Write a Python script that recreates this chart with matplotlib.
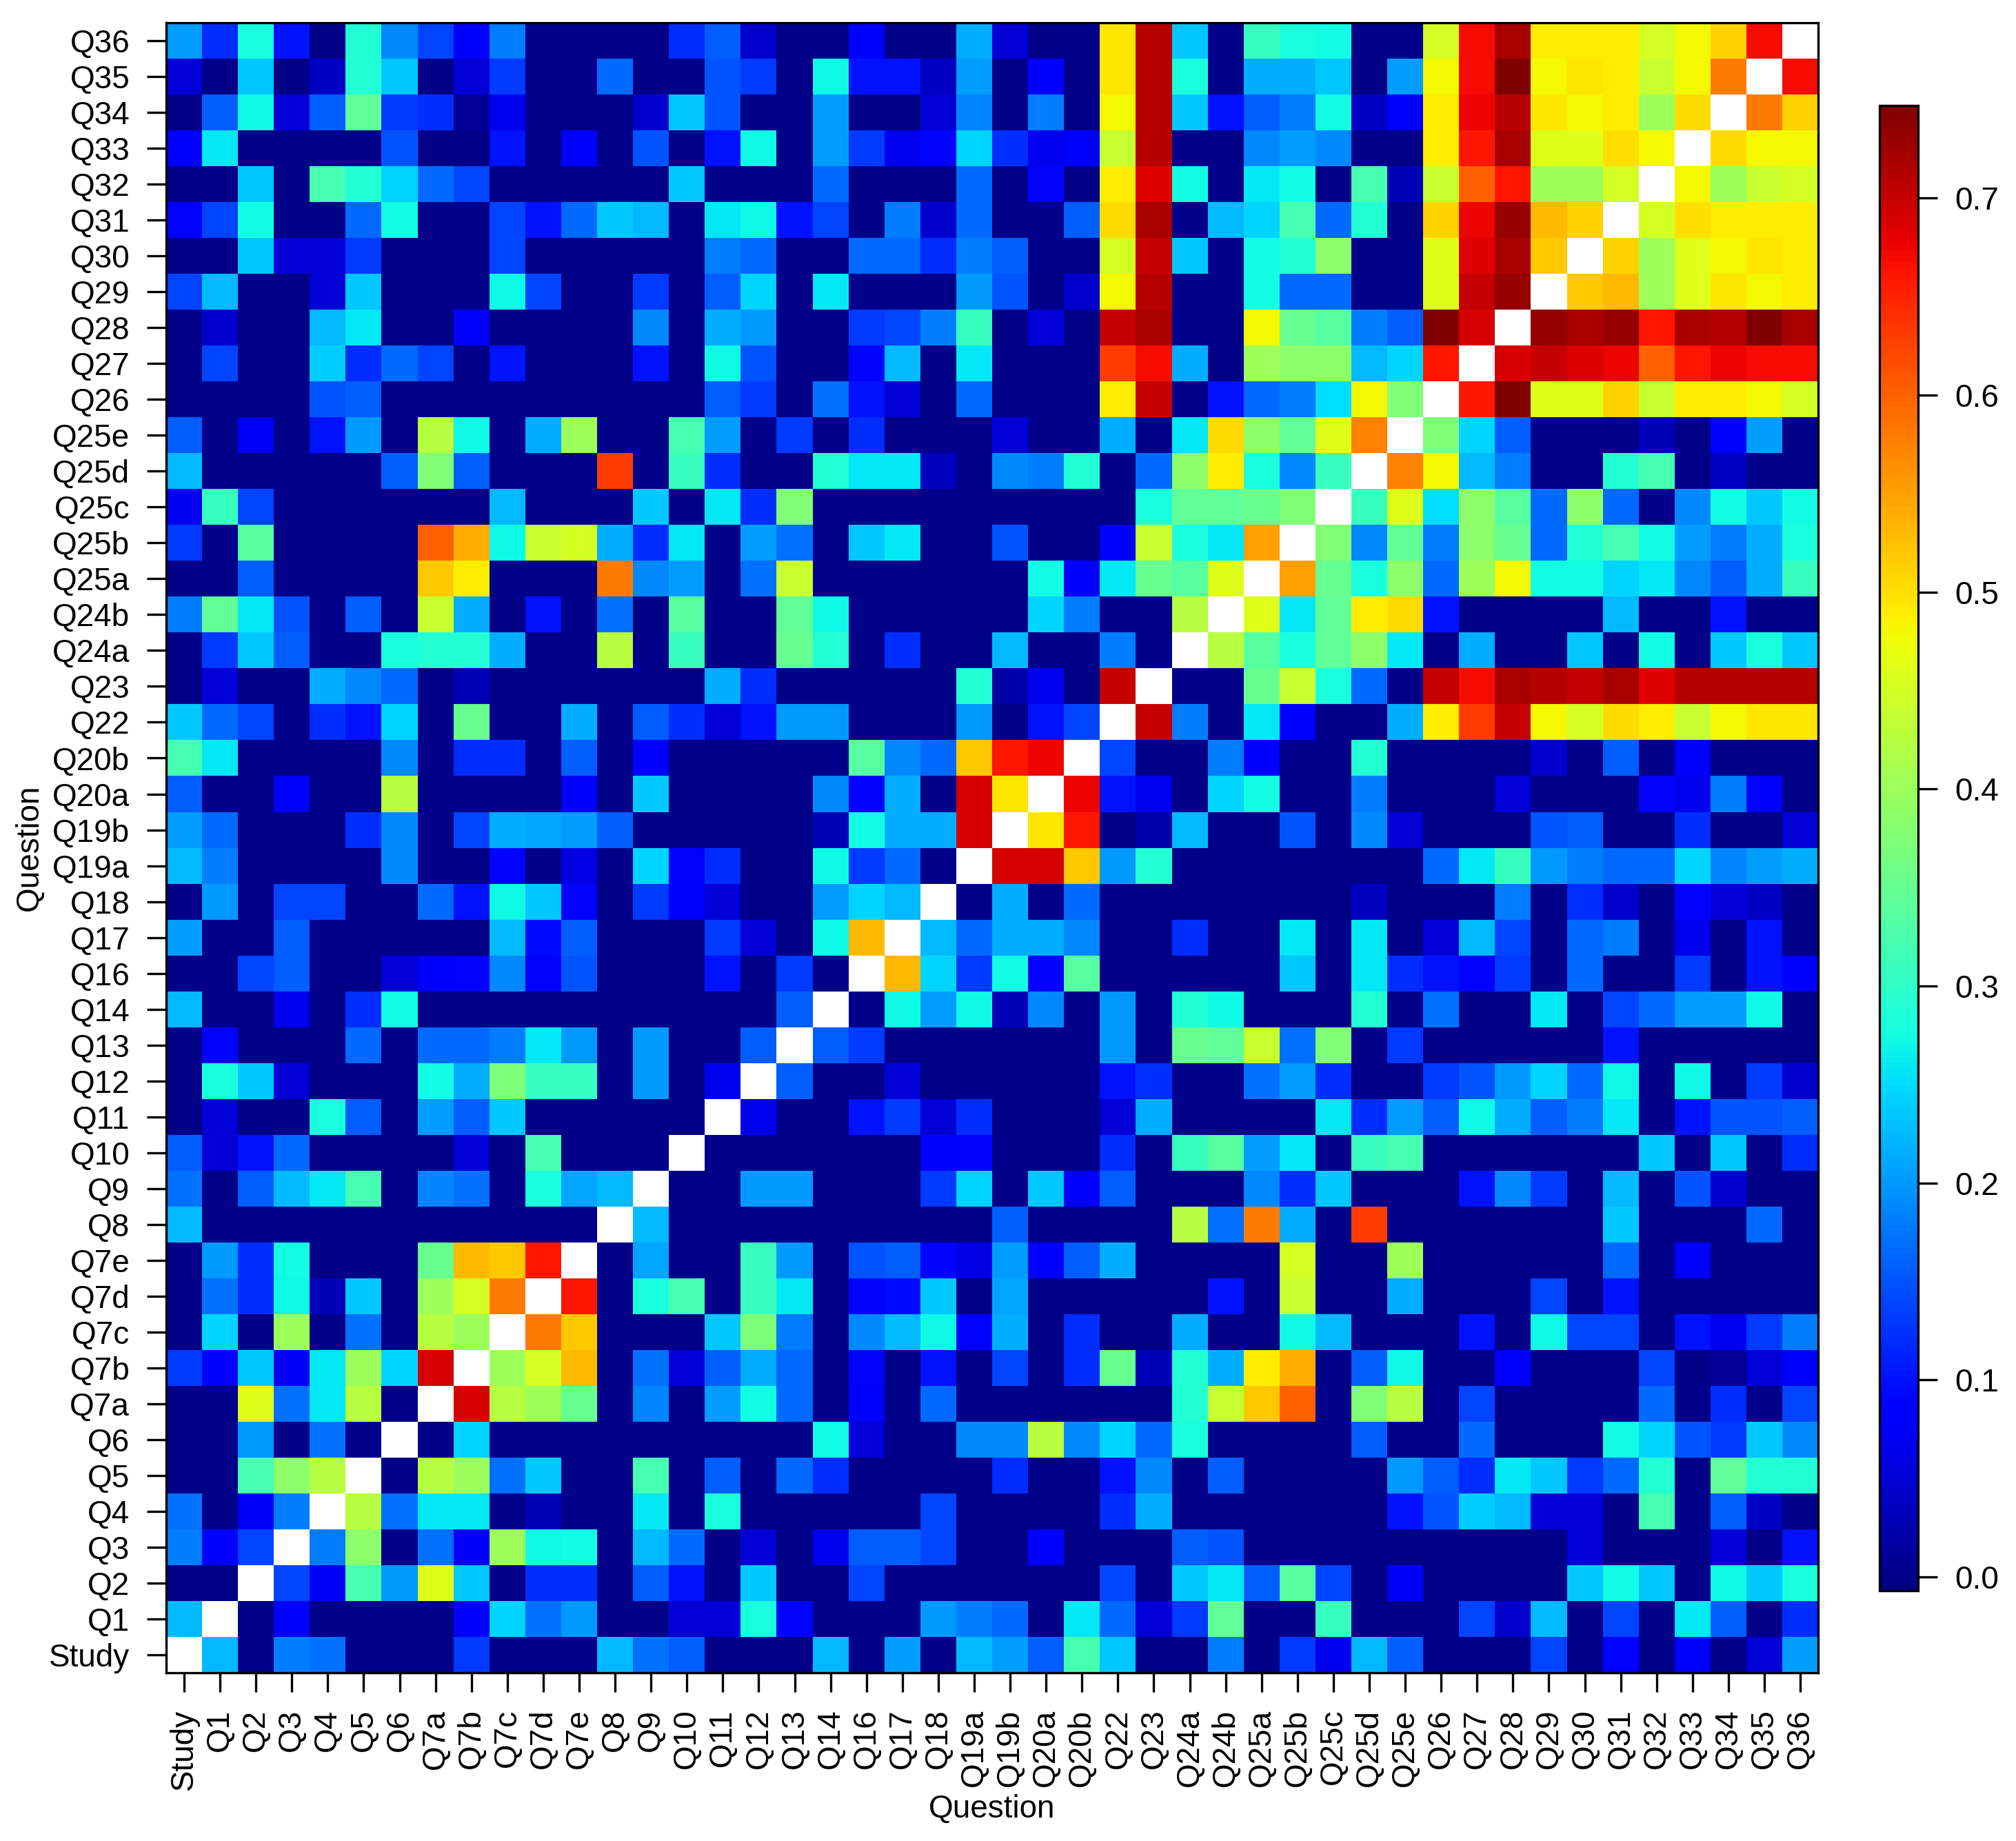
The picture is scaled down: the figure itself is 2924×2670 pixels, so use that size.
#! plot.py
# heat map of question-by-question correlations (diagonal left blank)

import numpy as np
import matplotlib
matplotlib.use('Agg')
from matplotlib import pyplot as plt

labels = ['Study', 'Q1', 'Q2', 'Q3', 'Q4', 'Q5', 'Q6', 'Q7a', 'Q7b', 'Q7c', 'Q7d', 'Q7e',
          'Q8', 'Q9', 'Q10', 'Q11', 'Q12', 'Q13', 'Q14', 'Q16', 'Q17', 'Q18', 'Q19a', 'Q19b',
          'Q20a', 'Q20b', 'Q22', 'Q23', 'Q24a', 'Q24b', 'Q25a', 'Q25b', 'Q25c', 'Q25d', 'Q25e',
          'Q26', 'Q27', 'Q28', 'Q29', 'Q30', 'Q31', 'Q32', 'Q33', 'Q34', 'Q35', 'Q36']

# upper triangle, one list per row: values for the columns right of the diagonal
r_study = [0.225, 0, 0.18, 0.17, 0, 0, 0, 0.13, 0, 0, 0,
           0.225, 0.17, 0.155, 0, 0, 0, 0.225, 0, 0.205, 0, 0.225, 0.205,
           0.155, 0.32, 0.235, 0, 0, 0.18, 0, 0.13, 0.065, 0.225, 0.155,
           0, 0, 0, 0.14, 0, 0.09, 0, 0.08, 0, 0.05, 0.205]
r_q1 = [0, 0.08, 0, 0, 0, 0, 0.08, 0.245, 0.17, 0.20,
        0, 0, 0.05, 0.05, 0.28, 0.09, 0, 0, 0, 0.20, 0.18, 0.165,
        0, 0.26, 0.165, 0.05, 0.13, 0.345, 0, 0, 0.31, 0, 0,
        0, 0.14, 0.045, 0.225, 0, 0.14, 0, 0.26, 0.155, 0, 0.12]
r_q2 = [0.14, 0.07, 0.32, 0.20, 0.46, 0.235, 0, 0.12, 0.12,
        0, 0.155, 0.1, 0, 0.235, 0, 0, 0.14, 0, 0, 0, 0,
        0, 0, 0.14, 0, 0.235, 0.26, 0.155, 0.335, 0.14, 0, 0.07,
        0, 0, 0, 0, 0.235, 0.275, 0.235, 0, 0.27, 0.235, 0.28]
r_q3 = [0.18, 0.385, 0, 0.17, 0.07, 0.40, 0.27, 0.275,
        0, 0.225, 0.165, 0, 0.05, 0, 0.065, 0.155, 0.155, 0.14, 0, 0,
        0.08, 0, 0, 0, 0.155, 0.15, 0, 0, 0, 0, 0,
        0, 0, 0, 0, 0.05, 0, 0, 0, 0.05, 0, 0.1]
r_q4 = [0.425, 0.17, 0.26, 0.26, 0, 0.03, 0,
        0, 0.26, 0, 0.28, 0, 0, 0, 0, 0, 0.14, 0, 0,
        0, 0, 0.12, 0.215, 0, 0, 0, 0, 0, 0, 0.1,
        0.15, 0.24, 0.225, 0.05, 0.05, 0, 0.32, 0, 0.155, 0.04, 0]
r_q5 = [0, 0.425, 0.40, 0.17, 0.235, 0,
        0, 0.32, 0, 0.155, 0, 0.165, 0.12, 0, 0, 0, 0, 0.12,
        0, 0, 0.1, 0.19, 0, 0.155, 0, 0, 0, 0, 0.20,
        0.155, 0.12, 0.26, 0.235, 0.13, 0.165, 0.29, 0, 0.345, 0.29, 0.29]
r_q6 = [0, 0.245, 0, 0, 0,
        0, 0, 0, 0, 0, 0, 0.275, 0.05, 0, 0, 0.19, 0.19,
        0.425, 0.19, 0.245, 0.165, 0.28, 0, 0, 0, 0, 0.155, 0,
        0, 0.165, 0, 0, 0, 0.275, 0.245, 0.15, 0.13, 0.235, 0.19]
r_q7a = [0.69, 0.425, 0.40, 0.35,
         0, 0.185, 0, 0.205, 0.275, 0.165, 0, 0.08, 0, 0.165, 0, 0,
         0, 0, 0, 0, 0.29, 0.44, 0.52, 0.60, 0, 0.375, 0.425,
         0, 0.14, 0, 0, 0, 0, 0.165, 0, 0.12, 0, 0.14]
r_q7b = [0.40, 0.45, 0.53,
         0, 0.17, 0.05, 0.155, 0.215, 0.165, 0, 0.09, 0, 0.1, 0, 0.14,
         0, 0.12, 0.35, 0.03, 0.29, 0.215, 0.49, 0.54, 0, 0.155, 0.27,
         0, 0, 0.08, 0, 0, 0, 0.14, 0, 0.01, 0.05, 0.08]
r_q7c = [0.58, 0.52,
         0, 0, 0, 0.235, 0.37, 0.18, 0, 0.19, 0.225, 0.27, 0.09, 0.215,
         0, 0.12, 0, 0, 0.215, 0, 0, 0.27, 0.225, 0, 0,
         0, 0.1, 0, 0.27, 0.14, 0.14, 0, 0.1, 0.065, 0.13, 0.18]
r_q7d = [0.66,
         0, 0.28, 0.32, 0, 0.31, 0.26, 0, 0.09, 0.095, 0.235, 0, 0.21,
         0, 0, 0, 0, 0, 0.1, 0, 0.44, 0, 0, 0.215,
         0, 0, 0, 0.14, 0, 0.1, 0, 0, 0, 0, 0]
r_q7e = [0, 0.21, 0, 0, 0.31, 0.20, 0, 0.15, 0.155, 0.09, 0.06, 0.205,
         0.08, 0.155, 0.215, 0, 0, 0, 0, 0.45, 0, 0, 0.40,
         0, 0, 0, 0, 0, 0.165, 0, 0.08, 0, 0, 0]
r_q8 = [0.225, 0, 0, 0, 0, 0, 0, 0, 0, 0, 0.155,
        0, 0, 0, 0, 0.425, 0.17, 0.58, 0.215, 0, 0.63, 0,
        0, 0, 0, 0, 0, 0.235, 0, 0, 0, 0.165, 0]
r_q9 = [0, 0, 0.20, 0.20, 0, 0, 0, 0.13, 0.245, 0,
        0.235, 0.08, 0.155, 0, 0, 0, 0.19, 0.12, 0.235, 0, 0,
        0, 0.1, 0.19, 0.13, 0, 0.225, 0, 0.15, 0.045, 0, 0]
r_q10 = [0, 0, 0, 0, 0, 0, 0.08, 0.09, 0,
         0, 0, 0.12, 0, 0.31, 0.335, 0.205, 0.26, 0, 0.31, 0.32,
         0, 0, 0, 0, 0, 0, 0.235, 0, 0.235, 0, 0.12]
r_q11 = [0.065, 0, 0, 0.1, 0.13, 0.05, 0.12, 0,
         0, 0, 0.05, 0.215, 0, 0, 0, 0, 0.26, 0.12, 0.205,
         0.155, 0.27, 0.215, 0.155, 0.18, 0.26, 0, 0.1, 0.15, 0.15, 0.155]
r_q12 = [0.155, 0, 0, 0.05, 0, 0, 0,
         0, 0, 0.1, 0.12, 0, 0, 0.17, 0.205, 0.12, 0, 0,
         0.13, 0.15, 0.20, 0.245, 0.165, 0.27, 0, 0.27, 0, 0.13, 0.045]
r_q13 = [0.155, 0.13, 0, 0, 0, 0,
         0, 0, 0.20, 0, 0.35, 0.345, 0.44, 0.17, 0.375, 0, 0.13,
         0, 0, 0, 0, 0, 0.1, 0, 0, 0, 0, 0]
r_q14 = [0, 0.27, 0.205, 0.27, 0.03,
         0.19, 0, 0.20, 0, 0.29, 0.27, 0, 0, 0, 0.29, 0,
         0.17, 0, 0, 0.26, 0, 0.14, 0.165, 0.205, 0.205, 0.27, 0]
r_q16 = [0.53, 0.245, 0.13, 0.275,
         0.09, 0.335, 0, 0, 0, 0, 0, 0.235, 0, 0.26, 0.12,
         0.1, 0.09, 0.13, 0, 0.165, 0, 0, 0.13, 0, 0.1, 0.08]
r_q17 = [0.225, 0.165, 0.215,
         0.215, 0.19, 0, 0, 0.12, 0, 0, 0.26, 0, 0.26, 0,
         0.05, 0.225, 0.14, 0, 0.165, 0.18, 0, 0.065, 0, 0.1, 0]
r_q18 = [0, 0.215,
         0, 0.165, 0, 0, 0, 0, 0, 0, 0, 0.035, 0,
         0, 0, 0.18, 0, 0.12, 0.045, 0, 0.09, 0.05, 0.04, 0]
r_q19a = [0.69,
          0.69, 0.52, 0.20, 0.29, 0, 0, 0, 0, 0, 0, 0,
          0.165, 0.26, 0.31, 0.20, 0.18, 0.165, 0.165, 0.245, 0.185, 0.205, 0.215]
r_q19b = [0.495, 0.66, 0, 0.02, 0.225, 0, 0, 0.15, 0, 0.19, 0.05,
          0, 0, 0, 0.15, 0.155, 0, 0, 0.12, 0, 0, 0.05]
r_q20a = [0.675, 0.1, 0.065, 0, 0.245, 0.275, 0, 0, 0.18, 0,
          0, 0, 0.05, 0, 0, 0, 0.09, 0.065, 0.18, 0.08, 0]
r_q20b = [0.14, 0, 0, 0.18, 0.08, 0, 0, 0.29, 0,
          0, 0, 0, 0.045, 0, 0.155, 0, 0.08, 0, 0, 0]
r_q22 = [0.70, 0.18, 0, 0.26, 0.08, 0, 0, 0.215,
         0.49, 0.63, 0.70, 0.48, 0.45, 0.505, 0.49, 0.44, 0.48, 0.495, 0.495]
r_q23 = [0, 0, 0.35, 0.44, 0.28, 0.165, 0,
         0.70, 0.67, 0.72, 0.71, 0.70, 0.72, 0.685, 0.71, 0.71, 0.71, 0.71]
r_q24a = [0.425, 0.335, 0.28, 0.345, 0.385, 0.26,
          0, 0.215, 0, 0, 0.235, 0, 0.275, 0, 0.235, 0.28, 0.235]
r_q24b = [0.46, 0.26, 0.345, 0.49, 0.505,
          0.1, 0, 0, 0, 0, 0.225, 0, 0, 0.1, 0, 0]
r_q25a = [0.55, 0.35, 0.28, 0.385,
          0.165, 0.40, 0.48, 0.275, 0.275, 0.245, 0.26, 0.19, 0.155, 0.215, 0.31]
r_q25b = [0.375, 0.19, 0.345,
          0.18, 0.385, 0.35, 0.165, 0.29, 0.32, 0.275, 0.205, 0.18, 0.215, 0.28]
r_q25c = [0.31, 0.46,
          0.25, 0.385, 0.335, 0.165, 0.385, 0.165, 0, 0.19, 0.275, 0.235, 0.275]
r_q25d = [0.575,
          0.48, 0.225, 0.18, 0, 0, 0.29, 0.32, 0, 0.04, 0, 0]
r_q25e = [0.375, 0.245, 0.155, 0, 0, 0, 0.03, 0, 0.08, 0.205, 0]
r_q26 = [0.66, 0.75, 0.46, 0.46, 0.51, 0.44, 0.49, 0.49, 0.48, 0.45]
r_q27 = [0.69, 0.70, 0.685, 0.675, 0.60, 0.66, 0.675, 0.67, 0.67]
r_q28 = [0.73, 0.72, 0.73, 0.66, 0.72, 0.71, 0.75, 0.72]
r_q29 = [0.52, 0.53, 0.40, 0.46, 0.495, 0.48, 0.49]
r_q30 = [0.51, 0.40, 0.46, 0.48, 0.495, 0.49]
r_q31 = [0.45, 0.50, 0.49, 0.49, 0.49]
r_q32 = [0.48, 0.40, 0.44, 0.45]
r_q33 = [0.505, 0.48, 0.48]
r_q34 = [0.58, 0.51]
r_q35 = [0.67]

upper_rows = [r_study, r_q1, r_q2, r_q3, r_q4, r_q5, r_q6, r_q7a, r_q7b, r_q7c, r_q7d, r_q7e,
              r_q8, r_q9, r_q10, r_q11, r_q12, r_q13, r_q14, r_q16, r_q17, r_q18, r_q19a, r_q19b,
              r_q20a, r_q20b, r_q22, r_q23, r_q24a, r_q24b, r_q25a, r_q25b, r_q25c, r_q25d, r_q25e,
              r_q26, r_q27, r_q28, r_q29, r_q30, r_q31, r_q32, r_q33, r_q34, r_q35]

# fill a symmetric matrix, diagonal stays NaN (drawn white)
n = len(labels)
corr = np.full((n, n), np.nan)
for i, row in enumerate(upper_rows):
    if len(row) != n - i - 1:
        raise ValueError('row %s has %d values' % (labels[i], len(row)))
    corr[i, i + 1:] = row
    corr[i + 1:, i] = row

plt.rcParams['font.family'] = ['Liberation Sans', 'DejaVu Sans']
fs = 16.5

fig = plt.figure(figsize=(14.62, 13.35), dpi=200)
ax = fig.add_axes([0.0824, 0.0914, 0.8195, 0.8962])

cmap = plt.get_cmap('jet').copy()
cmap.set_bad('white')
mesh = ax.pcolormesh(np.ma.masked_invalid(corr), cmap=cmap, vmin=-0.007, vmax=0.747)

ax.set_xlim(0, n)
ax.set_ylim(0, n)
ax.set_xticks(np.arange(n) + 0.5)
ax.set_xticklabels(labels, rotation=90)
ax.set_yticks(np.arange(n) + 0.5)
ax.set_yticklabels(labels)
ax.tick_params(direction='out', length=10, width=1.2, labelsize=fs, pad=9)
for s in ax.spines.values():
    s.set_linewidth(1.2)
ax.set_xlabel('Question', fontsize=fs, labelpad=2)
ax.set_ylabel('Question', fontsize=fs, labelpad=2)

# colour key on the right
cax = fig.add_axes([0.9323, 0.1360, 0.0192, 0.8067])
cb = fig.colorbar(mesh, cax=cax)
cb.set_ticks([0.0, 0.1, 0.2, 0.3, 0.4, 0.5, 0.6, 0.7])
cb.set_ticklabels(['0.0', '0.1', '0.2', '0.3', '0.4', '0.5', '0.6', '0.7'])
cb.ax.tick_params(direction='out', length=10, width=1.2, labelsize=fs, pad=9)
cb.outline.set_linewidth(1.2)

plt.savefig('out.png', dpi=200)
